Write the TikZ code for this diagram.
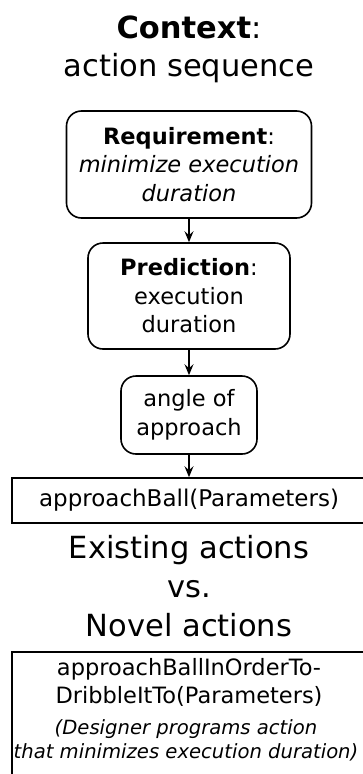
\documentclass[tikz,border=0pt]{standalone}
\usepackage{fontspec}
\setmainfont{DejaVu Sans}
\usetikzlibrary{arrows.meta}

\begin{document}
\begin{tikzpicture}[x=1pt,y=-1pt,
  rbox/.style={draw,rounded corners=15pt,line width=1.6pt,align=center,inner sep=0pt,font=\fontsize{22.5}{28.5}\selectfont},
  sbox/.style={draw,line width=1.6pt,align=center,inner sep=0pt,font=\fontsize{23}{28.5}\selectfont},
  big/.style={align=center,inner sep=0pt,font=\fontsize{30.5}{38}\selectfont},
  note/.style={align=center,inner sep=0pt,font=\fontsize{19.6}{24}\selectfont\itshape},
  arrow/.style={-{Stealth[length=11pt,width=9pt,inset=4pt]},line width=1.5pt}
]
\useasboundingbox (0,0) rectangle (363,774);
\clip (0,0) rectangle (363,774);
\node[big] (ctx) at (189,49.5) {\textbf{Context}:\\action sequence};
\node[rbox,minimum width=245,minimum height=107] (req) at (189,164.5) {\textbf{Requirement}:\\\textit{minimize execution}\\\textit{duration}};
\node[rbox,minimum width=202,minimum height=106] (pred) at (189,296) {\textbf{Prediction}:\\execution\\duration};
\node[rbox,minimum width=136,minimum height=78] (angle) at (189,415) {angle of\\approach};
\node[sbox,minimum width=354,minimum height=45] (exist) at (189,500.5) {approachBall(Parameters)};
\node[big,font=\fontsize{30.5}{39}\selectfont] (versus) at (189,586.5) {Existing actions\\vs.\\Novel actions};
% novel action box runs past the page edge
\node[sbox,minimum width=354,minimum height=160,anchor=north] (novel) at (189,651) {};
\node[align=center,inner sep=0pt,font=\fontsize{22.5}{28}\selectfont] (novelname) at (189,682) {approachBallInOrderTo-\\DribbleItTo(Parameters)};
\node[note] (novelnote) at (186,740) {(Designer programs action\\that minimizes execution duration)};
\draw[arrow] (req) -- (pred);
\draw[arrow] (pred) -- (angle);
\draw[arrow] (angle) -- (exist);
\end{tikzpicture}
\end{document}
